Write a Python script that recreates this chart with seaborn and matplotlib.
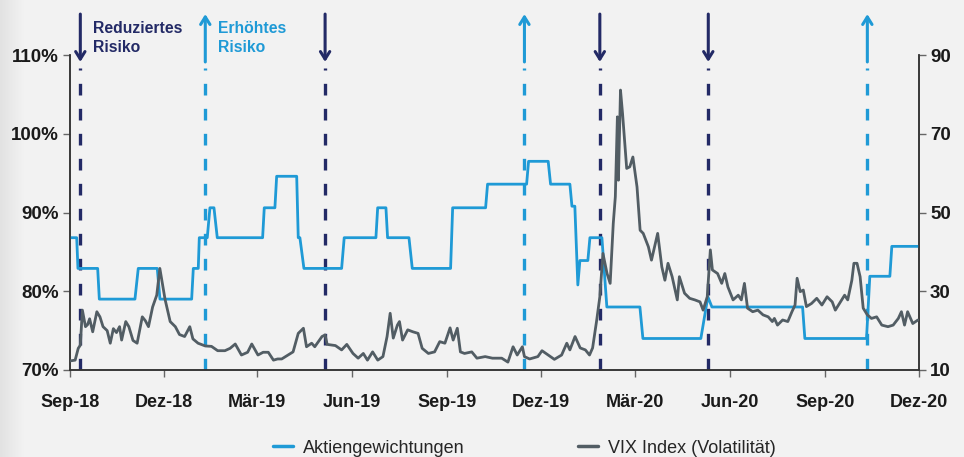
import pandas as pd
import numpy as np
import seaborn as sns
import matplotlib.pyplot as plt
import matplotlib.dates as mdates
from matplotlib.lines import Line2D

# data (days counted from 2018-09-01)
start = pd.Timestamp("2018-09-01")

weight_day = [0, 6.5, 7.7, 26.8, 28.4, 62.9, 66.1, 84.5, 87.1, 117.8, 119.4, 124.2, 125.2,
              132.9, 135.5, 139.4, 142.6, 186.5, 188.1, 198.4, 200.1, 219.5, 221.0, 222.6,
              226.5, 263.0, 265.5, 296.2, 297.9, 305.9, 307.5, 328.2, 331.4, 368.5, 370.5,
              402.4, 404.3, 442.1, 444.0, 463.0, 465.3, 484.0, 486.0, 488.8, 491.7, 493.7,
              501.4, 503.4, 515.0, 519.8, 551.8, 554.7, 610.8, 617.6, 621.5, 709.3, 711.5,
              771.2, 774.4, 793.8, 795.7, 821.8]
weight_pct = [86.8, 86.8, 82.9, 82.9, 79.0, 79.0, 82.9, 82.9, 79.0, 79.0, 82.9, 82.9, 86.8,
              86.8, 90.6, 90.6, 86.8, 86.8, 90.6, 90.6, 94.6, 94.6, 86.8, 86.8,
              82.9, 82.9, 86.8, 86.8, 90.6, 90.6, 86.8, 86.8, 82.9, 82.9, 90.6,
              90.6, 93.6, 93.6, 96.5, 96.5, 93.6, 93.6, 90.8, 90.8, 80.8, 83.9,
              83.9, 86.8, 86.8, 78.0, 78.0, 74.0, 74.0, 79.3, 78.0, 78.0, 74.0,
              74.0, 81.9, 81.9, 85.7, 85.7]

vix_day = [0, 5, 8, 10, 12, 15, 17, 19, 22, 26, 29, 32, 36, 39, 42, 45, 48, 50, 54, 57, 61, 65,
           70, 73, 76, 80, 84, 87, 92, 97, 102, 106, 111, 116, 119, 124, 131, 137, 143, 150,
           155, 160, 166, 172, 176, 182, 187, 192, 197, 201, 205, 211, 216, 221, 226, 229,
           234, 237, 244, 247, 249, 257, 263, 268, 274, 279, 284, 288, 293, 298, 303, 307,
           310, 313, 317, 319, 322, 327, 332, 337, 341, 347, 353, 358, 363, 368, 371, 375,
           378, 382, 389, 394, 402, 409, 418, 424, 429, 433, 438, 440, 445, 453, 457, 463,
           469, 476, 481, 484, 489, 494, 499, 503, 506, 510, 513, 516, 520, 523, 526, 528,
           530, 531, 533, 535, 539, 542, 545, 549, 552, 555, 560, 563, 566, 569, 573, 576,
           579, 583, 588, 590, 595, 600, 605, 610, 613, 617, 620, 622, 627, 631, 634, 637,
           642, 647, 650, 653, 656, 661, 666, 671, 676, 680, 682, 685, 690, 695, 699, 702,
           704, 707, 710, 713, 718, 723, 728, 733, 738, 741, 745, 750, 753, 757, 759, 762,
           765, 768, 772, 776, 781, 786, 792, 797, 802, 805, 808, 811, 816, 821]
vix_val = [12.3, 12.5, 15.5, 16.3, 25.2, 21.0, 21.5, 23.0, 19.7, 24.8, 23.5, 21.0, 20.0, 16.8,
           20.5, 19.5, 21.0, 17.6, 22.3, 21.0, 17.5, 16.8, 23.5, 22.5, 21.0, 26.0, 29.0, 35.8,
           28.0, 22.3, 21.0, 19.0, 18.5, 21.0, 17.9, 16.8, 16.1, 16.0, 14.9, 14.9,
           15.5, 16.6, 13.8, 14.5, 16.6, 13.8, 14.5, 14.5, 12.5, 12.8, 12.8, 13.8, 14.6, 19.3,
           20.6, 15.9, 16.8, 15.9, 18.5, 18.9, 16.5, 16.2, 15.1, 16.5, 14.2, 13.0, 14.2, 12.5,
           14.6, 12.5, 13.4, 18.5, 24.4, 18.1, 21.4, 22.3, 17.6, 20.2, 19.7, 19.3, 15.5, 14.2,
           14.6, 17.2, 16.8, 20.7, 17.6, 20.6, 14.6, 14.2, 14.6, 13.0, 13.4, 13.0, 13.0, 12.0,
           15.9, 13.8, 15.9, 13.4, 12.8, 13.4, 14.9, 13.8, 12.7, 13.8, 16.8, 15.1, 18.5, 15.6,
           15.1, 13.8, 15.6, 22.7, 28.6, 39.6, 34.5, 32.0, 47.2, 54.0, 74.3, 58.2, 81.1, 75.1,
           61.2, 61.6, 64.1, 56.5, 45.5, 44.7, 41.3, 37.9, 41.3, 44.7, 36.2, 32.8, 37.1, 33.7,
           27.8, 33.7, 29.5, 28.2, 27.8, 27.3, 25.2, 28.6, 40.5, 35.4, 34.5, 32.0, 34.5, 31.1,
           27.8, 29.0, 27.8, 32.0, 25.7, 24.8, 25.2, 24.0, 23.5, 22.3, 23.1, 21.4, 22.7, 22.3,
           24.8, 26.5, 33.3, 29.9, 30.3, 26.1, 26.9, 28.2, 26.5, 28.6, 27.3, 25.2, 26.9, 29.0,
           27.8, 32.8, 37.1, 37.1, 33.7, 25.7, 24.0, 23.1, 23.5, 21.4, 21.0, 21.4, 23.1, 24.8,
           21.4, 24.8, 21.8, 22.7]

cut_days = [10, 247, 513, 618]      # Reduziertes Risiko
raise_days = [131, 440, 772]        # Erhöhtes Risiko

tick_labels = ["Sep-18", "Dez-18", "Mär-19", "Jun-19", "Sep-19", "Dez-19",
               "Mär-20", "Jun-20", "Sep-20", "Dez-20"]

blue = "#1f9ad6"
navy = "#232a66"
grey = "#525d64"
bg = "#f2f2f2"

weights = pd.DataFrame({"date": start + pd.to_timedelta(weight_day, unit="D"), "pct": weight_pct})
vix = pd.DataFrame({"date": start + pd.to_timedelta(vix_day, unit="D"), "vix": vix_val})

sns.set_theme(style="white")
plt.rcParams["font.family"] = ["Liberation Sans", "DejaVu Sans"]

fig = plt.figure(figsize=(9.64, 4.57), dpi=100, facecolor=bg)

# slight shading at the left edge
shade = fig.add_axes([0, 0, 0.025, 1])
shade.imshow(np.linspace(0.885, 0.95, 50)[None, :], aspect="auto", cmap="gray",
             vmin=0, vmax=1, extent=(0, 1, 0, 1))
shade.axis("off")

ax = fig.add_axes([0.0726, 0.1904, 0.8807, 0.6892])
ax.set_facecolor(bg)

# signal lines
for d in cut_days + raise_days:
    c = navy if d in cut_days else blue
    x = mdates.date2num(start + pd.Timedelta(days=d))
    ax.axvline(x, ymin=0, ymax=0.958, color=c, lw=2.4, dashes=(3.5, 4.0), zorder=1)
    if d in cut_days:
        xy, xyt = (x, 0.978), (x, 1.13)
    else:
        xy, xyt = (x, 1.13), (x, 0.978)
    ax.annotate("", xy=xy, xytext=xyt, xycoords=ax.get_xaxis_transform(),
                arrowprops=dict(arrowstyle="->,head_length=0.45,head_width=0.28", color=c,
                                lw=2.2, shrinkA=0, shrinkB=0),
                annotation_clip=False)

sns.lineplot(data=weights, x="date", y="pct", ax=ax, color=blue, lw=2.0, zorder=3)

ax2 = ax.twinx()
sns.lineplot(data=vix, x="date", y="vix", ax=ax2, color=grey, lw=2.0, zorder=4)

ax.text(mdates.date2num(start + pd.Timedelta(days=22)), 1.107, "Reduziertes\nRisiko",
        transform=ax.get_xaxis_transform(), color=navy, fontsize=11.3, fontweight="bold",
        va="top", ha="left", linespacing=1.3)
ax.text(mdates.date2num(start + pd.Timedelta(days=143)), 1.107, "Erhöhtes\nRisiko",
        transform=ax.get_xaxis_transform(), color=blue, fontsize=11.3, fontweight="bold",
        va="top", ha="left", linespacing=1.3)

ticks = pd.date_range("2018-09-01", "2020-12-01", freq="3MS")
ax.set_xlim(ticks[0], ticks[-1])
ax.set_xticks(ticks)
ax.set_xticklabels(tick_labels)
ax.set_ylim(70, 110)
ax.set_yticks([70, 80, 90, 100, 110])
ax.set_yticklabels([f"{v}%" for v in [70, 80, 90, 100, 110]])
ax2.set_ylim(10, 90)
ax2.set_yticks([10, 30, 50, 70, 90])

for a in (ax, ax2):
    a.set_xlabel("")
    a.set_ylabel("")
    a.spines["top"].set_visible(False)
    for s in ("left", "right", "bottom"):
        a.spines[s].set_color("#333333")
        a.spines[s].set_linewidth(1.1)
    a.tick_params(length=5, width=1.0, color="#666666", labelsize=13.5, labelcolor="#1a1a1a",
                  pad=3)
    for lab in a.get_xticklabels() + a.get_yticklabels():
        lab.set_fontweight("bold")
ax.tick_params(axis="y", left=True, right=False)
ax.tick_params(axis="x", bottom=True, pad=12, labelsize=13)
ax2.tick_params(axis="y", right=True, left=False)
ax.patch.set_visible(True)
ax2.patch.set_visible(False)

handles = [Line2D([], [], color=blue, lw=2.5), Line2D([], [], color=grey, lw=2.5)]
fig.legend(handles, ["Aktiengewichtungen", "VIX Index (Volatilität)"], loc="lower center",
           bbox_to_anchor=(0.544, -0.035), ncol=2, frameon=False, fontsize=13,
           handlelength=1.1, handletextpad=0.55, columnspacing=6.3)

fig.savefig("out.png", dpi=100, facecolor=bg)
